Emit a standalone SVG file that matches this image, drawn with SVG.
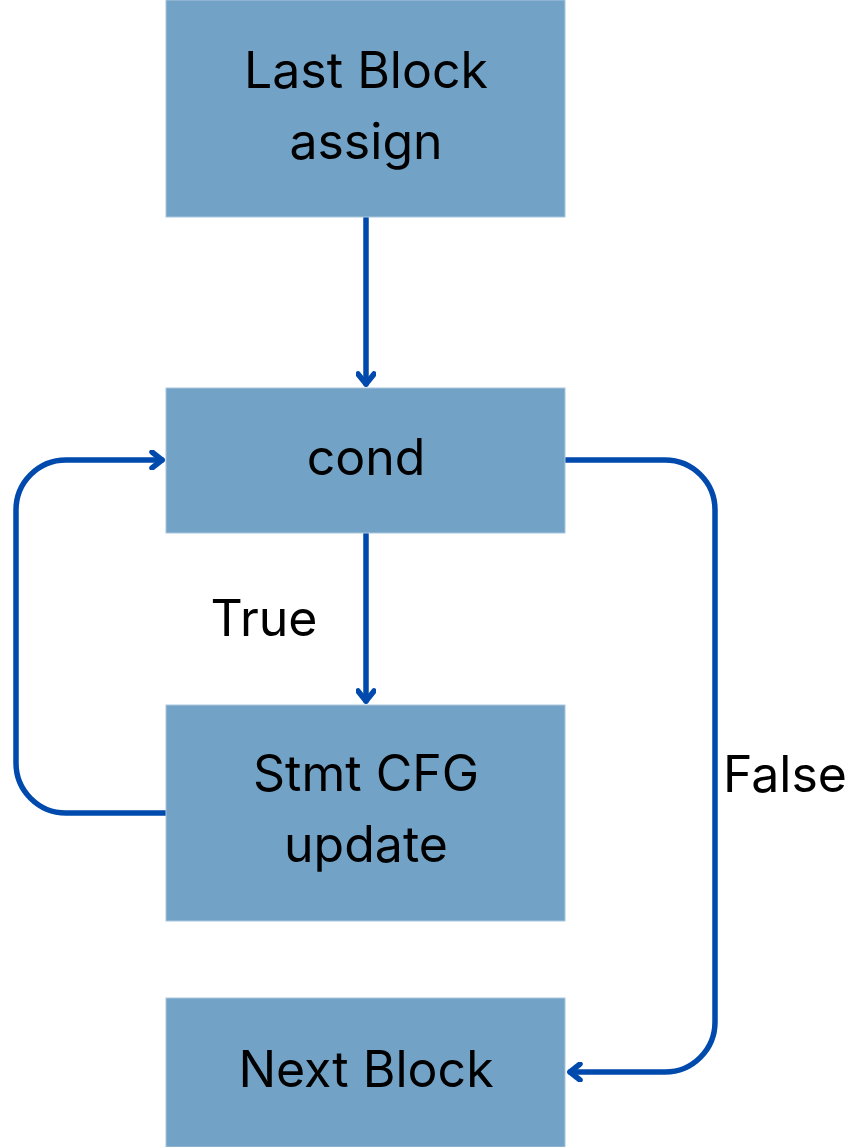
<svg xmlns="http://www.w3.org/2000/svg" width="856" height="1147" viewBox="0 0 856 1147">
<style>
.box{fill:#72A3C7;stroke:#A9C6DD;stroke-width:1}
.t{font-family:Inter,"Noto Sans",sans-serif;font-size:50px;fill:#000;text-anchor:middle}
.c{fill:none;stroke:#004AAD;stroke-width:5.5;stroke-linecap:round;stroke-linejoin:round}
</style>
<defs>
<marker id="ah" viewBox="0 0 20 20" refX="16" refY="10" markerWidth="20" markerHeight="20" markerUnits="userSpaceOnUse" orient="auto">
<path d="M6,2 L16,10 L6,18" fill="none" stroke="#004AAD" stroke-width="5.5" stroke-linecap="round" stroke-linejoin="round"/>
</marker>
</defs>
<rect width="856" height="1147" fill="#fff"/>
<g id="connectors">
<path class="c" d="M366,218 V384" marker-end="url(#ah)"/>
<path class="c" d="M366,534 V701" marker-end="url(#ah)"/>
<path class="c" d="M166,813 H66 A50,50 0 0 1 16,763 V510 A50,50 0 0 1 66,460 H162" marker-end="url(#ah)"/>
<path class="c" d="M566,460 H665 A50,50 0 0 1 715,510 V1022 A50,50 0 0 1 665,1072 H570" marker-end="url(#ah)"/>
</g>
<g id="last">
<rect class="box" x="166" y="0" width="399" height="217"/>
<text class="t" x="366" y="88">Last Block</text>
<text class="t" x="366" y="159">assign</text>
</g>
<g id="cond">
<rect class="box" x="166" y="388" width="399" height="145"/>
<text class="t" x="366" y="475">cond</text>
</g>
<g id="stmt">
<rect class="box" x="166" y="705" width="399" height="216"/>
<text class="t" x="366" y="791">Stmt CFG</text>
<text class="t" x="366" y="862">update</text>
</g>
<g id="next">
<rect class="box" x="166" y="998" width="399" height="149"/>
<text class="t" x="366" y="1087">Next Block</text>
</g>
<g id="labels">
<text class="t" x="264" y="636">True</text>
<text class="t" x="785" y="792">False</text>
</g>
</svg>
